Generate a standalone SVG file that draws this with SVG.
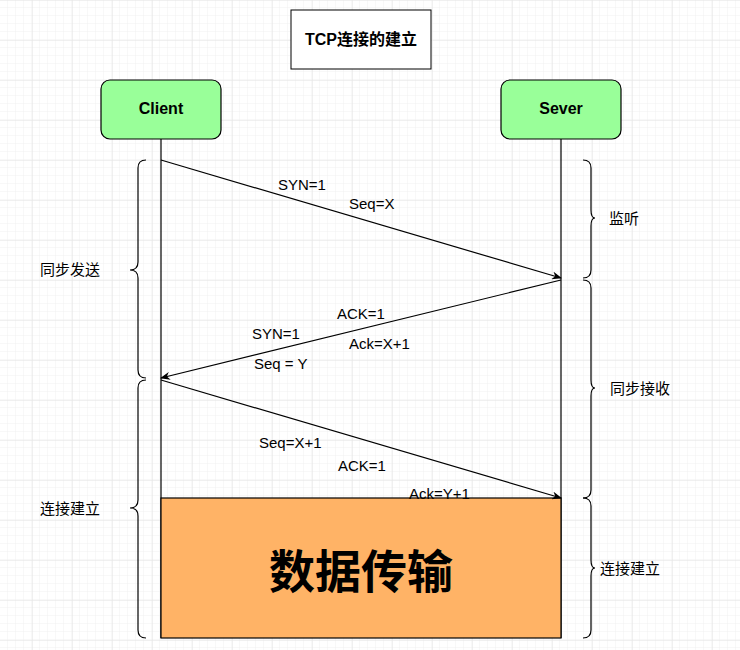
<svg xmlns="http://www.w3.org/2000/svg" width="740" height="650" viewBox="0 0 740 650">
<defs>
<pattern id="minor" width="8" height="8" patternUnits="userSpaceOnUse" x="0" y="0"><path d="M8 0V8M0 8H8" fill="none" stroke="#f0f0f0" stroke-width="1"/></pattern>
<pattern id="major" width="40" height="40" patternUnits="userSpaceOnUse" x="32" y="0"><rect width="40" height="40" fill="url(#minor)"/><path d="M0 0V40M0 0H40" fill="none" stroke="#e2e2e2" stroke-width="1"/></pattern>
<marker id="arr" markerWidth="10" markerHeight="8" refX="9" refY="4" orient="auto" markerUnits="userSpaceOnUse"><path d="M0 0L10 4L0 8L3 4Z" fill="#000"/></marker>
</defs>
<style>
.t{font-family:"Liberation Sans","Noto Sans CJK SC",sans-serif;font-size:15px;fill:#000}
.b{font-family:"Liberation Sans","Noto Sans CJK SC",sans-serif;font-size:16px;font-weight:bold;fill:#000}
.ln{stroke:#000;stroke-width:1.2;fill:none}
.node{fill:#99FF99;stroke:#000;stroke-width:1.2}
</style>
<rect width="740" height="650" fill="#fff"/>
<rect width="740" height="650" fill="url(#major)"/>
<g id="title"><rect x="291" y="10" width="140" height="59" fill="#fff" stroke="#000"/><text class="b" x="361" y="45" text-anchor="middle" font-size="15">TCP连接的建立</text></g>
<g id="lifelines">
<line class="ln" x1="161" y1="139" x2="161" y2="638"/>
<line class="ln" x1="561" y1="139" x2="561" y2="638"/>
</g>
<g id="client"><rect class="node" x="101" y="80" width="120" height="59" rx="9"/><text class="b" x="161" y="114" text-anchor="middle">Client</text></g>
<g id="server"><rect class="node" x="501" y="80" width="120" height="59" rx="9"/><text class="b" x="561" y="114" text-anchor="middle">Sever</text></g>
<g id="data"><rect x="161" y="498" width="400" height="140" fill="#FFB366" stroke="#000" stroke-width="1.2"/><text x="361" y="588" text-anchor="middle" style="font-family:'Noto Sans CJK SC',sans-serif;font-size:46px;font-weight:bold">数据传输</text></g>
<g id="connectors">
<line class="ln" x1="161" y1="160" x2="561" y2="278" marker-end="url(#arr)"/>
<line class="ln" x1="561" y1="280" x2="161" y2="378" marker-end="url(#arr)"/>
<line class="ln" x1="161" y1="380" x2="561" y2="498" marker-end="url(#arr)"/>
</g>
<g id="braces" class="ln">
<path d="M146 160Q138 160 138 168V262Q138 270 130 270Q138 270 138 278V370Q138 378 146 378"/>
<path d="M146 380Q138 380 138 388V500Q138 508 130 508Q138 508 138 516V630Q138 638 146 638"/>
<path d="M583 160Q591 160 591 168V210Q591 218 595 218Q591 218 591 226V270Q591 278 583 278"/>
<path d="M583 280Q591 280 591 288V380Q591 388 595 388Q591 388 591 396V490Q591 498 583 498"/>
<path d="M583 498Q591 498 591 506V560Q591 568 595 568Q591 568 591 576V630Q591 638 583 638"/>
</g>
<g id="labels">
<text class="t" x="278" y="190">SYN=1</text>
<text class="t" x="349" y="209">Seq=X</text>
<text class="t" x="337" y="319">ACK=1</text>
<text class="t" x="252" y="339">SYN=1</text>
<text class="t" x="349" y="349">Ack=X+1</text>
<text class="t" x="254" y="369">Seq = Y</text>
<text class="t" x="259" y="448">Seq=X+1</text>
<text class="t" x="338" y="471">ACK=1</text>
<text class="t" x="409" y="499">Ack=Y+1</text>
<text class="t" x="40" y="275">同步发送</text>
<text class="t" x="40" y="514">连接建立</text>
<text class="t" x="609" y="224">监听</text>
<text class="t" x="610" y="394">同步接收</text>
<text class="t" x="600" y="574">连接建立</text>
</g>
</svg>
